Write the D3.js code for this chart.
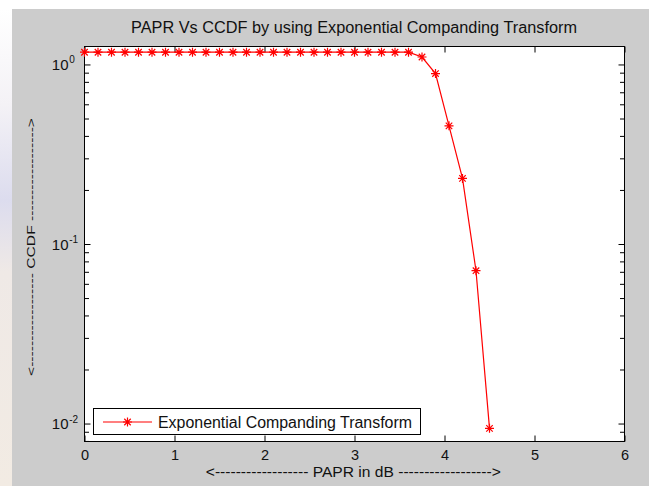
<!DOCTYPE html>
<html><head><meta charset="utf-8">
<script src="https://cdn.jsdelivr.net/npm/d3@7"></script>
<style>body{margin:0;background:#fff;overflow:hidden}</style>
</head><body><svg id="c" width="649" height="486"></svg>
<script>
// ---- data ----
const papr = [0, 0.15, 0.3, 0.45, 0.6, 0.75, 0.9, 1.05, 1.2, 1.35, 1.5, 1.65, 1.8, 1.95, 2.1, 2.25, 2.4, 2.55, 2.7, 2.85, 3.0, 3.15, 3.3, 3.45, 3.6, 3.75, 3.9, 4.05, 4.2, 4.35, 4.5];
const ccdf = [1.17, 1.17, 1.17, 1.17, 1.17, 1.17, 1.17, 1.17, 1.17, 1.17, 1.17, 1.17, 1.17, 1.17, 1.17, 1.17, 1.17, 1.17, 1.17, 1.17, 1.17, 1.17, 1.17, 1.17, 1.17, 1.1, 0.89, 0.455, 0.232, 0.071, 0.0094];
const xTicks = [0, 1, 2, 3, 4, 5, 6];
const xTickLabels = ["0", "1", "2", "3", "4", "5", "6"];
const yMajor = [0.01, 0.1, 1];
const yMajorExp = ["-2", "-1", "0"];
const yMinor = [0.008, 0.009, 0.02, 0.03, 0.04, 0.05, 0.06, 0.07, 0.08, 0.09, 0.2, 0.3, 0.4, 0.5, 0.6, 0.7, 0.8, 0.9];
const titleText = "PAPR Vs CCDF by using Exponential Companding Transform";
const xLabelText = "<------------------ PAPR in dB ------------------>";
const yLabelText = "<------------------ CCDF ------------------>";
const legendText = "Exponential Companding Transform";

// ---- layout ----
const FONT = "'Liberation Sans', Arial, Helvetica, sans-serif";
const svg = d3.select("#c");
const m = {l: 84.5, r: 624.5, t: 46.5, b: 441.5};
const x = d3.scaleLinear().domain([0, 6]).range([m.l, m.r]);
const y = d3.scaleLog().domain([Math.pow(10, -2.1), Math.pow(10, 0.1)]).range([m.b, m.t]);

// backgrounds
const defs = svg.append("defs");
const g1 = defs.append("linearGradient").attr("id", "strip").attr("x1", 0).attr("y1", 0).attr("x2", 0).attr("y2", 1);
g1.append("stop").attr("offset", "0").attr("stop-color", "#ffffff");
g1.append("stop").attr("offset", "0.2").attr("stop-color", "#f4f2f6");
g1.append("stop").attr("offset", "0.4").attr("stop-color", "#dcdcee");
g1.append("stop").attr("offset", "0.55").attr("stop-color", "#efe9e6");
g1.append("stop").attr("offset", "1").attr("stop-color", "#f2ebe3");
svg.append("rect").attr("x", 0).attr("y", 0).attr("width", 649).attr("height", 486).attr("fill", "#fff");
svg.append("rect").attr("x", 0).attr("y", 9).attr("width", 12).attr("height", 477).attr("fill", "url(#strip)");
svg.append("rect").attr("x", 12).attr("y", 9).attr("width", 637).attr("height", 477).attr("fill", "#cccccc");
svg.append("rect").attr("x", m.l).attr("y", m.t).attr("width", m.r - m.l).attr("height", m.b - m.t).attr("fill", "#fff");

// axes
function styleAxis(g) {
  g.select(".domain").remove();
  g.selectAll(".tick line").attr("stroke", "#000").attr("stroke-width", 1);
  g.selectAll("text").attr("fill", "#111").style("font-family", FONT);
}
const xb = svg.append("g").attr("transform", `translate(0,${m.b})`)
  .call(d3.axisBottom(x).tickValues(xTicks).tickSize(-6).tickPadding(8).tickFormat((d, i) => xTickLabels[i]));
styleAxis(xb);
xb.selectAll("text").style("font-size", "14.5px");
const xt = svg.append("g").attr("transform", `translate(0,${m.t})`)
  .call(d3.axisTop(x).tickValues(xTicks).tickSize(-6).tickFormat(""));
styleAxis(xt);

const yl = svg.append("g").attr("transform", `translate(${m.l},0)`)
  .call(d3.axisLeft(y).tickValues(yMajor).tickSize(-6).tickFormat(""));
styleAxis(yl);
const ylm = svg.append("g").attr("transform", `translate(${m.l},0)`)
  .call(d3.axisLeft(y).tickValues(yMinor).tickSize(-4.5).tickFormat(""));
styleAxis(ylm);
const yr = svg.append("g").attr("transform", `translate(${m.r},0)`)
  .call(d3.axisRight(y).tickValues(yMajor).tickSize(-6).tickFormat(""));
styleAxis(yr);
const yrm = svg.append("g").attr("transform", `translate(${m.r},0)`)
  .call(d3.axisRight(y).tickValues(yMinor).tickSize(-4.5).tickFormat(""));
styleAxis(yrm);

// y tick labels 10^n
yl.selectAll(".tick").each(function(d, i) {
  const t = d3.select(this);
  t.append("text").attr("x", -16).attr("y", 5.3).attr("text-anchor", "end")
    .attr("fill", "#111").style("font-family", FONT).style("font-size", "15px").text("10");
  t.append("text").attr("x", -15.3).attr("y", -1.5).attr("text-anchor", "start")
    .attr("fill", "#111").style("font-family", FONT).style("font-size", "10px").text(yMajorExp[i]);
});

// frame
svg.append("rect").attr("x", m.l).attr("y", m.t).attr("width", m.r - m.l).attr("height", m.b - m.t)
  .attr("fill", "none").attr("stroke", "#000").attr("stroke-width", 1);

// star marker
const starType = {
  draw(ctx, size) {
    const r = Math.sqrt(size) / 2, d = r * 0.72;
    ctx.moveTo(-r, 0); ctx.lineTo(r, 0);
    ctx.moveTo(0, -r); ctx.lineTo(0, r);
    ctx.moveTo(-d, -d); ctx.lineTo(d, d);
    ctx.moveTo(-d, d); ctx.lineTo(d, -d);
  }
};
const star = d3.symbol().type(starType).size(81);

// series
const data = papr.map((p, i) => ({p, c: ccdf[i]}));
const plot = svg.append("g");
plot.append("path").datum(data)
  .attr("d", d3.line().x(d => x(d.p)).y(d => y(d.c)))
  .attr("fill", "none").attr("stroke", "#ff0000").attr("stroke-width", 1.2);
plot.selectAll(".mk").data(data).join("path").attr("class", "mk")
  .attr("transform", d => `translate(${x(d.p)},${y(d.c)})`)
  .attr("d", star).attr("fill", "none").attr("stroke", "#ff0000").attr("stroke-width", 1.2);

// legend
const lg = svg.append("g");
lg.append("rect").attr("x", 93.5).attr("y", 408.5).attr("width", 327).attr("height", 26)
  .attr("fill", "#fff").attr("stroke", "#000").attr("stroke-width", 1);
lg.append("line").attr("x1", 103).attr("x2", 152).attr("y1", 422).attr("y2", 422)
  .attr("stroke", "#ff0000").attr("stroke-width", 1.2);
lg.append("path").attr("transform", "translate(127.5,422)").attr("d", star)
  .attr("fill", "none").attr("stroke", "#ff0000").attr("stroke-width", 1.2);
lg.append("text").attr("x", 158).attr("y", 428).attr("fill", "#111")
  .style("font-family", FONT).style("font-size", "16px")
  .attr("textLength", 254).attr("lengthAdjust", "spacingAndGlyphs").text(legendText);

// title and labels
svg.append("text").attr("x", 354).attr("y", 33.3).attr("text-anchor", "middle").attr("fill", "#111")
  .style("font-family", FONT).style("font-size", "16px")
  .attr("textLength", 446).attr("lengthAdjust", "spacingAndGlyphs").text(titleText);
svg.append("text").attr("x", 353.3).attr("y", 476.5).attr("text-anchor", "middle").attr("fill", "#111")
  .style("font-family", FONT).style("font-size", "14px")
  .attr("textLength", 295).attr("lengthAdjust", "spacingAndGlyphs").text(xLabelText);
svg.append("text").attr("transform", "translate(35,247) rotate(-90)").attr("text-anchor", "middle").attr("fill", "#111")
  .style("font-family", FONT).style("font-size", "11.5px")
  .attr("textLength", 258).attr("lengthAdjust", "spacingAndGlyphs").text(yLabelText);
</script>
</body></html>
